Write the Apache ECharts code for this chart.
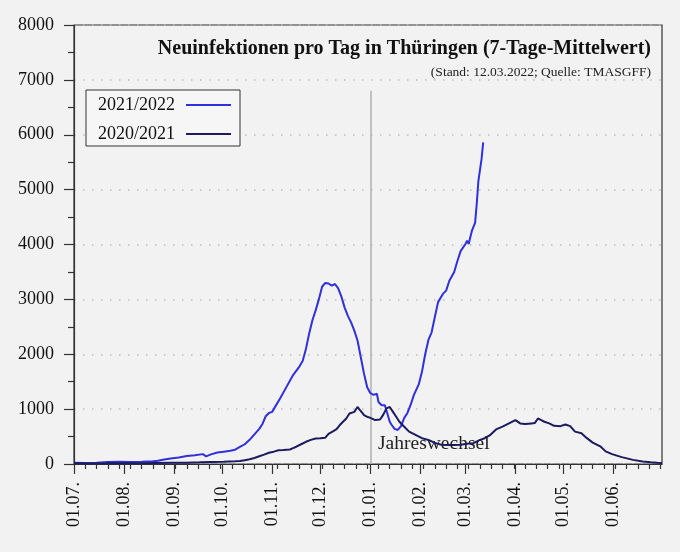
<!DOCTYPE html>
<html>
<head>
<meta charset="utf-8">
<script src="https://cdn.jsdelivr.net/npm/echarts@6/dist/echarts.min.js"></script>
<style>
html,body{margin:0;padding:0;background:#f2f2f2;}
#c{width:680px;height:552px;}
</style>
</head>
<body>
<div id="c"></div>
<script>
// Day index counted from 01.07. (0) to 01.07. next year (365)
const monthDays = [0, 31, 62, 92, 123, 153, 184, 215, 243, 274, 304, 335];
const monthLabels = ['01.07.', '01.08.', '01.09.', '01.10.', '01.11.', '01.12.', '01.01.', '01.02.', '01.03.', '01.04.', '01.05.', '01.06.'];
const yearChangeDay = 184;

const days2122 = [0,7,14,21,28,35,42,49,52,56,60,65,70,75,80,82,85,89,93,97,100,103,106,109,112,115,117,119,121,123,125,128,132,136,140,142,144,146,148,150,152,154,156,158,160,162,164,166,168,170,172,174,176,178,180,182,184,186,188,189,191,193,194,196,197,199,201,203,205,207,209,211,214,216,218,220,222,224,226,229,231,233,236,238,240,243,244,245,247,249,250,251,253,254];
const values2122 = [25,20,25,35,40,35,40,50,60,80,100,120,145,160,180,140,175,210,225,240,260,310,360,440,540,640,730,870,930,950,1050,1200,1410,1620,1780,1880,2100,2380,2620,2800,3000,3230,3300,3290,3250,3280,3200,3050,2850,2700,2580,2430,2250,1950,1650,1400,1290,1260,1280,1130,1070,1070,970,770,720,640,620,690,840,930,1080,1260,1450,1680,2000,2260,2400,2680,2950,3100,3160,3340,3500,3700,3880,4010,4070,4010,4250,4400,4740,5150,5560,5860];

const days2021 = [0,10,20,30,40,50,60,70,78,85,93,100,103,106,109,112,115,118,121,124,127,130,134,136,138,141,144,147,150,153,156,158,161,163,165,167,169,171,174,176,177,179,180,182,184,187,190,192,194,196,198,200,202,205,208,212,216,220,224,228,232,236,240,244,248,252,255,258,262,266,270,274,275,277,280,284,286,288,290,292,295,298,302,305,308,311,315,318,322,327,330,334,340,347,353,358,362,365];
const values2021 = [15,10,12,15,15,20,25,25,30,35,40,50,55,70,85,110,140,170,205,225,250,255,265,290,315,360,405,440,465,470,480,550,600,635,710,770,830,920,950,1040,1000,930,890,860,840,800,810,900,1015,1040,950,860,770,680,590,530,470,440,385,350,345,345,350,370,380,440,470,520,630,680,740,800,790,740,730,740,745,830,800,770,740,695,690,720,690,590,560,480,390,315,230,180,125,75,45,30,22,20];

const weekTicks = [];
for (let d = 7; d < 365; d += 7) weekTicks.push(d);

const FONT = 'Liberation Serif';
const chart = echarts.init(document.getElementById('c'));
const zip = (a, b) => a.map((d, i) => [d, b[i]]);

chart.setOption({
  backgroundColor: '#f2f2f2',
  animation: false,
  textStyle: { fontFamily: FONT },
  title: [{
    text: 'Neuinfektionen pro Tag in Thüringen (7-Tage-Mittelwert)',
    right: 24,
    top: 34,
    textStyle: { fontFamily: FONT, fontWeight: 'bold', fontSize: 20, color: '#111' }
  }, {
    text: '(Stand: 12.03.2022; Quelle: TMASGFF)',
    right: 24,
    top: 60,
    textStyle: { fontFamily: FONT, fontWeight: 'normal', fontSize: 13.5, color: '#222' }
  }],
  legend: {
    orient: 'vertical',
    left: 86,
    top: 90,
    align: 'right',
    data: ['2021/2022', '2020/2021'],
    itemWidth: 45,
    itemHeight: 16,
    itemGap: 11,
    padding: [6, 9, 3, 12],
    backgroundColor: '#f6f6f6',
    borderColor: '#333',
    borderWidth: 1,
    icon: 'path://M0,7 L45,7 L45,9 L0,9 Z',
    textStyle: { fontFamily: FONT, fontSize: 18, color: '#111', padding: [0, 6, 0, 0] }
  },
  grid: {
    left: 74, right: 18, top: 25, bottom: 88,
    show: true, borderColor: '#333', borderWidth: 1.2, backgroundColor: 'transparent'
  },
  xAxis: [{
    type: 'value', min: 0, max: 365,
    axisLine: { show: true, onZero: false, lineStyle: { color: '#333', width: 1.2 } },
    axisTick: { show: true, length: 10, customValues: monthDays, lineStyle: { color: '#333', width: 1.2 } },
    axisLabel: {
      customValues: monthDays, rotate: 90, margin: 18,
      fontFamily: FONT, fontSize: 18, color: '#111',
      formatter: v => monthLabels[monthDays.indexOf(v)]
    },
    splitLine: { show: false }
  }, {
    type: 'value', min: 0, max: 365, position: 'bottom',
    axisLine: { show: false },
    axisTick: { show: true, length: 5, customValues: weekTicks, lineStyle: { color: '#333', width: 1.2 } },
    axisLabel: { show: false },
    splitLine: { show: false }
  }],
  yAxis: {
    type: 'value', min: 0, max: 8000, interval: 1000,
    axisLine: { show: true, lineStyle: { color: '#333', width: 1.2 } },
    axisTick: { show: true, length: 10, lineStyle: { color: '#333', width: 1.2 } },
    minorTick: { show: true, splitNumber: 2, length: 6, lineStyle: { color: '#333', width: 1.2 } },
    axisLabel: { margin: 20, fontFamily: FONT, fontSize: 18, color: '#111', formatter: v => String(v) },
    splitLine: { show: true, lineStyle: { color: '#bdbdbd', width: 1.5, type: [1.5, 7.5] } }
  },
  series: [{
    name: '2020/2021', type: 'line', xAxisIndex: 0, showSymbol: false, symbol: 'none',
    data: zip(days2021, values2021),
    lineStyle: { color: '#1b1b5e', width: 2 }, itemStyle: { color: '#1b1b5e' },
    z: 3
  }, {
    name: '2021/2022', type: 'line', xAxisIndex: 0, showSymbol: false, symbol: 'none',
    data: zip(days2122, values2122),
    lineStyle: { color: '#3030dc', width: 2 }, itemStyle: { color: '#3030dc' },
    z: 2,
    markLine: {
      silent: true, symbol: 'none', z: 1,
      lineStyle: { color: '#b0b0b0', width: 1.5, type: 'solid' },
      label: { show: false },
      data: [[{ coord: [yearChangeDay, 0] }, { coord: [yearChangeDay, 6800] }]]
    },
    markPoint: {
      silent: true, symbol: 'circle', symbolSize: 0, z: 1,
      label: { show: true, position: 'right', distance: 6, formatter: 'Jahreswechsel', fontFamily: FONT, fontSize: 19.5, color: '#222' },
      data: [{ coord: [yearChangeDay + 1, 370] }]
    }
  }]
});
</script>
</body>
</html>
